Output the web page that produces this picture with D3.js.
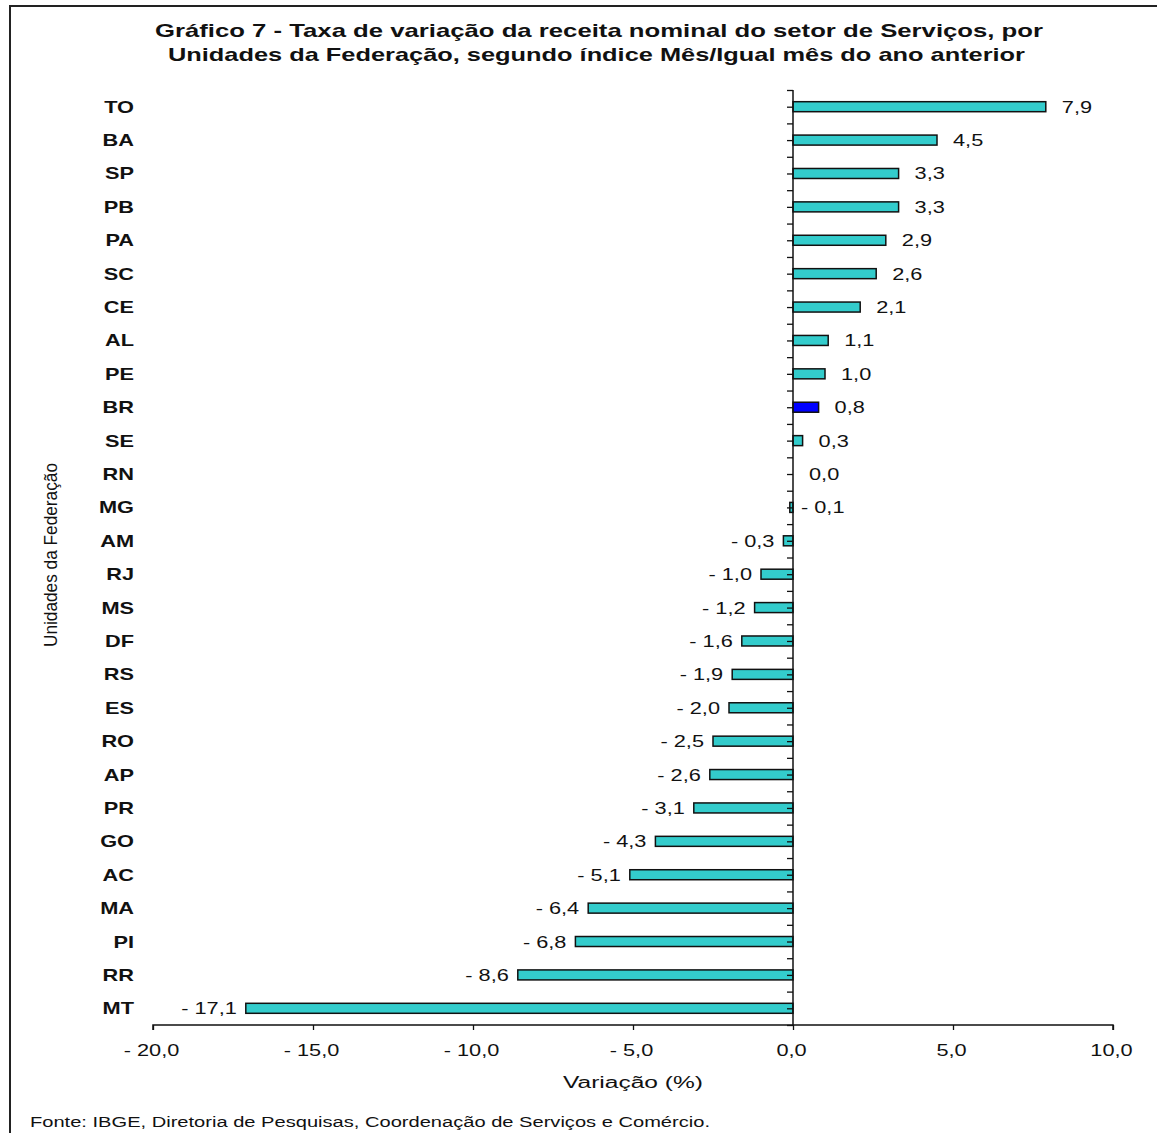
<!DOCTYPE html>
<html>
<head>
<meta charset="utf-8">
<script src="https://cdn.jsdelivr.net/npm/d3@7"></script>
<style>
  body { margin: 0; background: #fff; }
  text { font-family: "Liberation Sans", Arial, sans-serif; fill: #111; }
  .bold { font-weight: bold; }
</style>
</head>
<body>
<div id="chart"></div>
<script>
var states = ['TO','BA','SP','PB','PA','SC','CE','AL','PE','BR','SE','RN','MG','AM',
  'RJ','MS','DF','RS','ES','RO','AP','PR','GO','AC','MA','PI','RR','MT']
var values = [7.9, 4.5, 3.3, 3.3, 2.9, 2.6, 2.1, 1.1, 1.0, 0.8, 0.3, 0.0, -0.1, -0.3,
  -1.0, -1.2, -1.6, -1.9, -2.0, -2.5, -2.6, -3.1, -4.3, -5.1, -6.4, -6.8, -8.6, -17.1]
var xTicks = [-20, -15, -10, -5, 0, 5, 10]
var highlight = 'BR'

var title1 = 'Gráfico 7 - Taxa de variação da receita nominal do setor de Serviços, por'
var title2 = 'Unidades da Federação, segundo índice Mês/Igual mês do ano anterior'
var source = 'Fonte: IBGE, Diretoria de Pesquisas, Coordenação de Serviços e Comércio.'

var data = states.map(function(s, i){ return {uf: s, v: values[i]} })

var W = 1157, H = 1133, SX = 1.36
var svg = d3.select('#chart').append('svg').attr('width', W).attr('height', H)

// frame (right/bottom edges fall outside the picture)
svg.append('rect').attr('x', 10).attr('y', 6).attr('width', 1300).attr('height', 1300)
  .attr('fill', 'none').attr('stroke', '#222').attr('stroke-width', 2)

var x = d3.scaleLinear().domain([-20, 10]).range([153, 1113])
var y = d3.scaleBand().domain(states).range([90, 1025])
var yIdx = d3.scaleLinear().domain([0, states.length]).range([90, 1025])

var fmt = function(v){
  var s = d3.format('.1f')(Math.abs(v)).replace('.', ',')
  return v < 0 ? '- ' + s : s
}

function label(x0, y0, str, anchor, size, bold){
  var t = svg.append('g').attr('transform', 'translate(' + x0 + ',' + y0 + ') scale(' + SX + ',1)')
    .append('text').attr('text-anchor', anchor).style('font-size', size + 'px').text(str)
  if (bold) t.classed('bold', true)
  return t
}

// bars
var barH = 10
svg.selectAll('rect.bar').data(data).enter().append('rect')
  .attr('class', 'bar')
  .attr('x', function(d){ return x(Math.min(0, d.v)) })
  .attr('width', function(d){ return Math.abs(x(d.v) - x(0)) })
  .attr('y', function(d){ return y(d.uf) + y.bandwidth() / 2 - barH / 2 })
  .attr('height', barH)
  .attr('fill', function(d){ return d.uf == highlight ? '#0000ff' : '#33cccc' })
  .attr('stroke', '#111').attr('stroke-width', 1.5)

// y axis: line plus ticks at band edges and centres
svg.append('g').attr('transform', 'translate(' + x(0) + ',0)')
  .call(d3.axisLeft(yIdx).tickValues(d3.range(0, states.length + 0.5, 0.5)).tickSize(6).tickFormat(''))
  .call(function(g){
    g.select('.domain').attr('stroke', '#111').attr('stroke-width', 1.5).attr('d', 'M0,' + yIdx(0) + 'V' + yIdx(states.length))
    g.selectAll('line').attr('stroke', '#111').attr('stroke-width', 1.3)
  })

// x axis
svg.append('g').attr('transform', 'translate(0,' + yIdx(states.length) + ')')
  .call(d3.axisBottom(x).tickValues(xTicks).tickSize(5).tickFormat(fmt))
  .call(function(g){
    g.select('.domain').attr('stroke', '#111').attr('stroke-width', 1.5).attr('d', 'M' + x(-20) + ',5V0H' + x(10) + 'V5')
    g.selectAll('line').attr('stroke', '#111').attr('stroke-width', 1.3)
    g.selectAll('text').attr('y', 0).attr('dy', 0)
      .attr('transform', 'translate(-2,31) scale(' + SX + ',1)')
      .style('font-size', '16px').style('font-family', '"Liberation Sans", Arial, sans-serif').attr('fill', '#111')
  })

// category and value labels
data.forEach(function(d){
  var cy = y(d.uf) + y.bandwidth() / 2
  label(134, cy + 6, d.uf, 'end', 16, true)
  if (d.v >= 0) label(x(d.v) + 16, cy + 6, fmt(d.v), 'start', 16)
  else if (d.v > -0.2) label(x(0) + 8, cy + 6, fmt(d.v), 'start', 16)
  else label(x(d.v) - 9, cy + 6, fmt(d.v), 'end', 16)
})

// titles
svg.append('text').attr('class', 'bold').attr('x', 599).attr('y', 37).attr('text-anchor', 'middle')
  .style('font-size', '19px').attr('textLength', 888).attr('lengthAdjust', 'spacingAndGlyphs').text(title1)
svg.append('text').attr('class', 'bold').attr('x', 596.5).attr('y', 61).attr('text-anchor', 'middle')
  .style('font-size', '19px').attr('textLength', 857).attr('lengthAdjust', 'spacingAndGlyphs').text(title2)

svg.append('text').attr('x', 633).attr('y', 1088).attr('text-anchor', 'middle')
  .style('font-size', '16px').attr('textLength', 140).attr('lengthAdjust', 'spacingAndGlyphs').text('Variação (%)')

svg.append('text').attr('transform', 'translate(57,555) rotate(-90)').attr('text-anchor', 'middle')
  .style('font-size', '18px').attr('textLength', 184).attr('lengthAdjust', 'spacingAndGlyphs').text('Unidades da Federação')

svg.append('text').attr('x', 30).attr('y', 1127)
  .style('font-size', '14px').attr('textLength', 680).attr('lengthAdjust', 'spacingAndGlyphs').text(source)
</script>
</body>
</html>
